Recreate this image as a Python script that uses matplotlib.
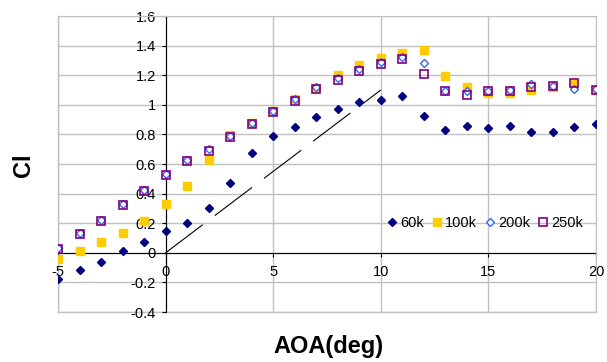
import matplotlib
matplotlib.use("Agg")
import matplotlib.pyplot as plt

plt.rcParams['font.family'] = ['Liberation Sans', 'DejaVu Sans']

aoa = list(range(-5, 21))
cl_60k = [-0.18, -0.115, -0.06, 0.01, 0.075, 0.15, 0.20, 0.30, 0.475, 0.676, 0.79, 0.85, 0.917,
          0.975, 1.018, 1.034, 1.059, 0.926, 0.833, 0.858, 0.842, 0.858, 0.818, 0.818, 0.851, 0.867]
cl_100k = [-0.043, 0.009, 0.07, 0.133, 0.218, 0.327, 0.45, 0.628, 0.795, 0.875, 0.955, 1.04, 1.115,
           1.2, 1.266, 1.315, 1.349, 1.367, 1.194, 1.12, 1.083, 1.079, 1.10, 1.12, 1.142, 1.10]
cl_200k = [0.035, 0.133, 0.222, 0.328, 0.425, 0.535, 0.625, 0.70, 0.79, 0.875, 0.96, 1.04, 1.12,
           1.18, 1.245, 1.29, 1.32, 1.284, 1.095, 1.095, 1.095, 1.10, 1.14, 1.13, 1.11, 1.11]
cl_250k = [0.029, 0.128, 0.218, 0.324, 0.42, 0.527, 0.617, 0.685, 0.78, 0.87, 0.95, 1.027, 1.106,
           1.169, 1.228, 1.275, 1.309, 1.21, 1.095, 1.068, 1.095, 1.095, 1.12, 1.125, 1.144, 1.10]
theory_x = [0, 10]
theory_y = [0, 1.1]

fig = plt.figure(figsize=(6.07, 3.62), dpi=100)
ax = fig.add_axes([58/607, 1-312/362, 538/607, 296/362])

ax.plot(theory_x, theory_y, color='black', lw=0.8, dashes=(42, 13.5), zorder=2)
ax.plot(aoa, cl_60k, ls='none', marker='D', ms=4.2, color='#000080', label='60k', zorder=3)
ax.plot(aoa, cl_100k, ls='none', marker='s', ms=6, color='#FFCC00', mec='#FFCC00', label='100k', zorder=4)
ax.plot(aoa, cl_200k, ls='none', marker='D', ms=3.6, mfc='white', mec='#3366FF', mew=1.0, label='200k', zorder=5)
ax.plot(aoa, cl_250k, ls='none', marker='s', ms=5.5, mfc='none', mec='#800080', mew=1.2, label='250k', zorder=6)

ax.set_xlim(-5, 20)
ax.set_ylim(-0.4, 1.6)
ax.set_xticks([-5, 0, 5, 10, 15, 20])
ax.set_xticklabels(['-5', '0', '5', '10', '15', '20'])
ax.set_yticks([-0.4, -0.2, 0, 0.2, 0.4, 0.6, 0.8, 1.0, 1.2, 1.4, 1.6])
ax.set_yticklabels(['-0.4', '-0.2', '0', '0.2', '0.4', '0.6', '0.8', '1', '1.2', '1.4', '1.6'])
ax.grid(True, color='#c0c0c0', lw=1.0)
ax.set_axisbelow(True)

for s in ['top', 'right']:
    ax.spines[s].set_color('#c0c0c0')
ax.spines['left'].set_position(('data', 0))
ax.spines['bottom'].set_position(('data', 0))
ax.spines['left'].set_color('black')
ax.spines['bottom'].set_color('black')
ax.spines['left'].set_zorder(1)
ax.spines['bottom'].set_zorder(1)
ax.plot([0, 0], [0, 1], transform=ax.transAxes, color='#c0c0c0', lw=1, clip_on=False, zorder=0)
ax.plot([0, 1], [0, 0], transform=ax.transAxes, color='#c0c0c0', lw=1, clip_on=False, zorder=0)

ax.tick_params(axis='both', labelsize=10.5, width=0.8, color='black')
ax.tick_params(axis='y', direction='out', length=3, pad=4)
ax.tick_params(axis='x', direction='out', length=3, pad=6)

ax.legend(loc='center left', bbox_to_anchor=((386-58)/538, (312-223)/296), ncol=4, frameon=False,
          handletextpad=0.15, columnspacing=0.5, handlelength=0.8, fontsize=10.5,
          borderaxespad=0, borderpad=0)

fig.text(24/607, 1-165/362, 'Cl', rotation=90, fontsize=17, fontweight='bold',
         ha='center', va='center')
fig.text(328/607, 1-347/362, 'AOA(deg)', fontsize=17, fontweight='bold',
         ha='center', va='center')

fig.savefig('out.png', dpi=100)
